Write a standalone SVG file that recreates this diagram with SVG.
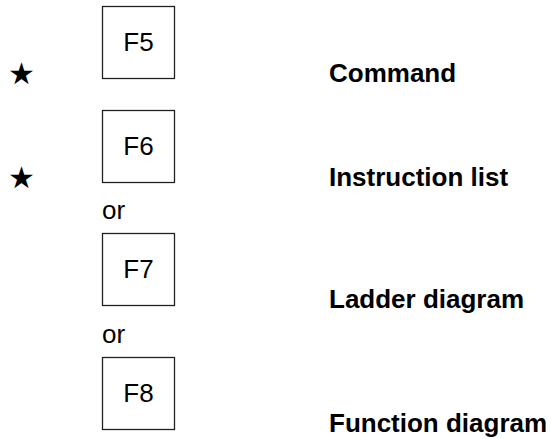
<svg xmlns="http://www.w3.org/2000/svg" width="551" height="439" viewBox="0 0 551 439">
<style>
.box{fill:#fff;stroke:#222;stroke-width:1.3}
.k{font-family:"Liberation Sans",Arial,sans-serif;font-size:26px;fill:#000;text-anchor:middle}
.t{font-family:"Liberation Sans",Arial,sans-serif;font-size:26px;fill:#000}
.b{font-family:"Liberation Sans",Arial,sans-serif;font-size:26px;font-weight:bold;fill:#000}
.s{font-family:"DejaVu Sans",sans-serif;font-size:30px;fill:#000}
</style>
<rect width="551" height="439" fill="#fff"/>
<g id="f5"><rect class="box" x="102.5" y="6.5" width="72" height="72"/><text class="k" x="138.5" y="51">F5</text></g>
<g id="f6"><rect class="box" x="102.5" y="110.5" width="72" height="72"/><text class="k" x="138.5" y="155">F6</text></g>
<g id="f7"><rect class="box" x="102.5" y="233.5" width="72" height="72"/><text class="k" x="138.5" y="278">F7</text></g>
<g id="f8"><rect class="box" x="102.5" y="357.5" width="72" height="72"/><text class="k" x="138.5" y="402">F8</text></g>
<g id="labels">
<text class="s" x="8" y="84">★</text>
<text class="s" x="8" y="188">★</text>
<text class="t" x="102" y="219">or</text>
<text class="t" x="102" y="343">or</text>
<text class="b" x="329" y="82">Command</text>
<text class="b" x="329" y="186">Instruction list</text>
<text class="b" x="329" y="308">Ladder diagram</text>
<text class="b" x="329" y="432">Function diagram</text>
</g>
<g id="connectors"></g>
</svg>
